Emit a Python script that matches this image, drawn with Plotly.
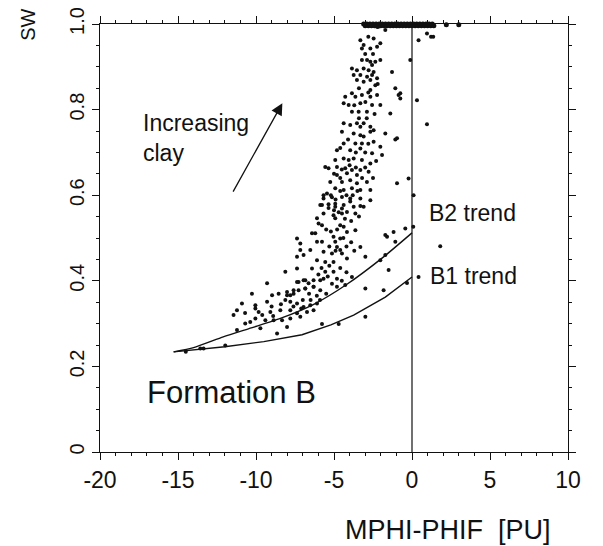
import plotly.graph_objects as go

# ---- data (MPHI-PHIF [PU], SW) ----
band_x = [-3.1, -3.0, -2.9, -2.8, -2.7, -2.6, -2.5, -2.4, -2.3, -2.2, -2.1, -2.0,
          -1.9, -1.8, -1.7, -1.6, -1.5, -1.4, -1.3, -1.2, -1.1, -1.0, -0.9, -0.8,
          -0.7, -0.6, -0.5, -0.4, -0.3, -0.2, -0.1, 0.0, 0.1, 0.2, 0.3, 0.4, 0.5,
          0.6, 0.7, 0.8, 0.9, 1.0, 1.1, 1.2, 1.3, 1.4, 2.2, 3.0]
band_y = [1.0, 0.996, 1.0, 0.996, 1.0, 0.996, 1.0, 0.996, 1.0, 0.994, 1.0, 0.996,
          1.0, 0.996, 1.0, 0.996, 1.0, 0.996, 1.0, 0.996, 1.0, 0.996, 1.0, 0.996,
          1.0, 0.996, 1.0, 0.996, 1.0, 0.996, 1.0, 0.996, 1.0, 0.996, 1.0, 0.996,
          1.0, 0.996, 1.0, 0.996, 1.0, 0.996, 1.0, 0.996, 1.0, 0.996, 0.998, 0.998]

upper_pts = [(-3.31, 0.962), (-3.21, 0.943), (-3.10, 0.951), (-2.67, 0.943), (-2.46, 0.966),
             (-2.24, 0.947), (-2.03, 0.955), (-3.21, 0.916), (-2.88, 0.916), (-2.67, 0.912),
             (-2.35, 0.912), (-2.03, 0.916), (-2.56, 0.904), (-3.85, 0.896), (-3.53, 0.892),
             (-3.10, 0.896), (-2.78, 0.892), (-2.46, 0.888), (-3.74, 0.881), (-3.31, 0.881),
             (-2.88, 0.877), (-2.56, 0.881), (-2.24, 0.873), (-1.28, 0.888), (-3.53, 0.869),
             (-3.10, 0.865), (-2.67, 0.869), (-2.35, 0.857), (-1.07, 0.850), (-0.75, 0.838),
             (-2.67, 0.846), (-3.85, 0.838), (-3.63, 0.830), (-3.21, 0.834), (-2.67, 0.830),
             (-2.24, 0.834), (-4.28, 0.830), (-4.38, 0.815), (-4.06, 0.811), (-3.31, 0.815),
             (-2.99, 0.818), (-2.56, 0.811), (-2.03, 0.811), (-0.75, 0.826), (0.32, 0.822),
             (-0.11, 0.916), (0.42, 0.962), (0.96, 0.978), (1.22, 0.970), (1.36, 0.970),
             (-1.71, 0.986), (0.96, 0.766), (-1.39, 0.791), (-0.86, 0.834), (-0.22, 0.639),
             (-0.96, 0.733), (-0.96, 0.628), (-3.85, 0.795), (-3.42, 0.795), (-2.89, 0.795),
             (-4.38, 0.768), (-3.96, 0.764), (-3.53, 0.768), (-3.10, 0.768), (-3.31, 0.760),
             (-2.67, 0.760), (-4.49, 0.748), (-3.74, 0.744), (-3.31, 0.740), (-3.10, 0.737),
             (-2.67, 0.748), (-2.46, 0.752), (-1.71, 0.744), (-1.07, 0.730),
             (-3.0, 0.70), (-2.8, 0.72), (-3.6, 0.70), (-4.1, 0.73), (-3.4, 0.78),
             (-2.9, 0.78), (-2.4, 0.79), (-3.7, 0.81), (-2.8, 0.84), (-3.0, 0.93),
             (-2.5, 0.93), (-2.8, 0.97), (-3.4, 0.85), (-2.2, 0.86)]

mid_pts = [(-4.38, 0.721), (-3.63, 0.721), (-3.21, 0.721), (-2.46, 0.725), (-2.03, 0.713),
           (-4.81, 0.705), (-3.96, 0.705), (-3.31, 0.709), (-2.56, 0.698), (-1.92, 0.694),
           (-4.92, 0.682), (-4.38, 0.686), (-4.06, 0.682), (-3.74, 0.686), (-3.21, 0.682),
           (-2.67, 0.674), (-5.56, 0.666), (-4.81, 0.666), (-4.28, 0.663), (-3.85, 0.659),
           (-3.31, 0.659), (-2.78, 0.655), (-4.81, 0.647), (-4.17, 0.651), (-3.53, 0.647),
           (-5.24, 0.631), (-4.49, 0.631), (-3.96, 0.635), (-3.53, 0.628), (-2.89, 0.631),
           (-4.92, 0.616), (-4.38, 0.612), (-3.85, 0.616), (-3.31, 0.612), (-2.67, 0.612),
           (-5.45, 0.604), (-5.67, 0.592), (-5.13, 0.595), (-4.49, 0.596), (-3.96, 0.592),
           (-3.31, 0.592), (-2.67, 0.588), (-5.88, 0.577), (-5.35, 0.579), (-4.92, 0.573),
           (-4.38, 0.577), (-3.74, 0.573), (-3.10, 0.573), (0.10, 0.600), (-5.67, 0.600),
           (-5.35, 0.663), (-5.77, 0.577), (-5.35, 0.570), (-4.92, 0.580), (-4.49, 0.569),
           (-3.96, 0.585), (-3.31, 0.575), (-5.67, 0.557), (-5.03, 0.553), (-4.49, 0.557),
           (-4.17, 0.561), (-3.63, 0.557), (-6.09, 0.546), (-5.99, 0.534), (-5.77, 0.530),
           (-4.92, 0.546), (-4.60, 0.530), (-4.38, 0.526), (-4.17, 0.514), (-3.63, 0.518),
           (-6.41, 0.511), (-6.20, 0.511), (-5.03, 0.503), (-4.60, 0.499), (-7.37, 0.499),
           (-7.16, 0.487), (-6.09, 0.491), (-5.77, 0.491), (-4.92, 0.491), (-4.81, 0.479),
           (-4.60, 0.472), (-3.31, 0.479), (-7.16, 0.472), (-6.52, 0.472), (-5.67, 0.468),
           (-5.13, 0.464), (-4.49, 0.464), (-6.95, 0.460), (-7.37, 0.456), (-6.09, 0.448),
           (-5.56, 0.444), (-5.03, 0.444), (-4.17, 0.452), (-2.99, 0.456), (-1.60, 0.503),
           (-1.18, 0.514), (-0.43, 0.522), (-1.07, 0.491), (-1.71, 0.460), (-2.03, 0.448),
           (-1.71, 0.507), (0.08, 0.526), (1.81, 0.481),
           (-4.6, 0.71), (-5.0, 0.65), (-4.5, 0.66), (-4.0, 0.67), (-3.6, 0.665),
           (-3.0, 0.665), (-2.3, 0.68), (-2.5, 0.64), (-3.2, 0.64), (-4.6, 0.64),
           (-5.2, 0.60), (-4.9, 0.59), (-4.6, 0.61), (-4.2, 0.60), (-3.8, 0.60),
           (-3.5, 0.61), (-5.0, 0.565), (-4.7, 0.56), (-4.3, 0.545), (-3.9, 0.54),
           (-3.4, 0.55), (-5.5, 0.52), (-5.2, 0.515), (-4.8, 0.52), (-4.4, 0.50),
           (-3.9, 0.49), (-5.3, 0.48), (-4.9, 0.47), (-4.2, 0.48), (-3.7, 0.47)]

lower_pts = [(-8.12, 0.421), (-7.37, 0.429), (-6.41, 0.429), (-5.56, 0.421), (-5.03, 0.421),
             (-4.81, 0.405), (-5.67, 0.405), (-7.27, 0.397), (-6.84, 0.401), (-6.31, 0.401),
             (-5.88, 0.401), (-3.85, 0.409), (-2.99, 0.382), (-1.50, 0.425), (-6.31, 0.386),
             (-5.88, 0.378), (-6.84, 0.382), (-7.59, 0.378), (-8.01, 0.374), (-7.80, 0.366),
             (-5.13, 0.393), (-4.81, 0.386), (-4.28, 0.390), (-1.82, 0.378), (-0.32, 0.395),
             (-9.29, 0.394), (-7.37, 0.397), (-6.95, 0.401), (-6.63, 0.394), (-10.26, 0.370),
             (-8.97, 0.366), (-8.55, 0.370), (-8.01, 0.366), (-7.59, 0.370), (-7.27, 0.378),
             (-6.84, 0.382), (-6.31, 0.386), (-10.90, 0.347), (-10.04, 0.343), (-9.29, 0.351),
             (-8.12, 0.355), (-7.80, 0.351), (-7.37, 0.347), (-6.95, 0.339), (-6.52, 0.343),
             (-6.09, 0.347), (-11.22, 0.331), (-11.44, 0.320), (-9.83, 0.327), (-9.08, 0.327),
             (-8.44, 0.331), (-7.80, 0.331), (-7.37, 0.324), (-6.73, 0.327), (-6.31, 0.331),
             (-10.69, 0.300), (-10.37, 0.304), (-10.04, 0.312), (-9.40, 0.308), (-8.87, 0.308),
             (-8.33, 0.308), (-7.80, 0.312), (-7.16, 0.316), (-8.01, 0.292), (-11.22, 0.285),
             (-9.72, 0.289), (-8.65, 0.277), (-11.97, 0.249), (-13.36, 0.242), (-5.77, 0.299),
             (-4.70, 0.299), (-2.99, 0.316), (-13.57, 0.242), (-14.5, 0.234), (-10.04, 0.335),
             (0.42, 0.409),
             (-5.8, 0.43), (-5.3, 0.435), (-4.6, 0.43), (-4.2, 0.42), (-6.0, 0.415),
             (-5.4, 0.41), (-4.5, 0.40), (-6.6, 0.37), (-6.1, 0.365), (-5.5, 0.37),
             (-7.0, 0.355), (-6.5, 0.355), (-5.9, 0.355), (-7.6, 0.34), (-7.1, 0.335),
             (-8.4, 0.345), (-9.0, 0.34), (-9.6, 0.32), (-8.9, 0.318), (-10.7, 0.325)]

b2_x = [-15.28, -14.0, -12.1, -10.3, -8.44, -6.3, -4.17, -1.82, 0.0]
b2_y = [0.234, 0.244, 0.269, 0.290, 0.312, 0.345, 0.392, 0.456, 0.512]
b1_x = [-15.28, -12.0, -9.5, -7.05, -5.2, -3.74, -1.71, 0.0]
b1_y = [0.234, 0.246, 0.258, 0.274, 0.297, 0.320, 0.362, 0.409]

x_ticks = [-20, -15, -10, -5, 0, 5, 10]
x_ticktext = ["-20", "-15", "-10", "-5", "0", "5", "10"]
y_ticks = [0, 0.2, 0.4, 0.6, 0.8, 1.0]
y_ticktext = ["0", "0.2", "0.4", "0.6", "0.8", "1.0"]

FONT = "Liberation Sans, Arial, Helvetica, sans-serif"
INK = "#111111"

fig = go.Figure()

cloud = upper_pts + mid_pts + lower_pts
fig.add_trace(go.Scatter(
    x=[p[0] for p in cloud], y=[p[1] for p in cloud], mode="markers",
    marker=dict(size=4, color=INK), cliponaxis=False, showlegend=False))
fig.add_trace(go.Scatter(
    x=band_x, y=band_y, mode="markers",
    marker=dict(size=5, color=INK), cliponaxis=False, showlegend=False))
fig.add_trace(go.Scatter(
    x=b2_x, y=b2_y, mode="lines", line=dict(color=INK, width=1.4, shape="spline", smoothing=0.6),
    showlegend=False))
fig.add_trace(go.Scatter(
    x=b1_x, y=b1_y, mode="lines", line=dict(color=INK, width=1.4),
    showlegend=False))

fig.add_vline(x=0, line=dict(color=INK, width=1.2))

axis_common = dict(showgrid=False, zeroline=False, showline=True, linecolor=INK,
                   linewidth=1.2, mirror="ticks", ticks="outside", tickcolor=INK,
                   tickwidth=1, ticklen=7, automargin=False)

fig.update_xaxes(range=[-20, 10], tickmode="array", tickvals=x_ticks, ticktext=x_ticktext,
                 tickfont=dict(family=FONT, size=23, color=INK), ticklabelstandoff=0,
                 minor=dict(dtick=1, ticks="outside", ticklen=3, tickcolor=INK),
                 **axis_common)
fig.update_yaxes(range=[0, 1], tickmode="array", tickvals=y_ticks, ticktext=y_ticktext,
                 tickangle=-90, tickfont=dict(family=FONT, size=20, color=INK),
                 ticklabelstandoff=0,
                 minor=dict(dtick=0.05, ticks="outside", ticklen=3, tickcolor=INK),
                 **axis_common)

ann_font = dict(family=FONT, color=INK)
annotations = [
    dict(text="SW", xref="paper", yref="paper", x=-0.154, y=0.998, xanchor="center",
         yanchor="middle", showarrow=False, textangle=-90, font=dict(size=20, **ann_font)),
    dict(text="MPHI-PHIF  [PU]", xref="paper", yref="paper", x=0.968, y=-0.183,
         xanchor="right", yanchor="middle", showarrow=False, font=dict(size=27, **ann_font)),
    dict(text="Increasing<br>clay", x=-17.4, y=0.733, xanchor="left", yanchor="middle",
         align="left", showarrow=False, font=dict(size=23, **ann_font)),
    dict(text="B2 trend", x=0.98, y=0.558, xanchor="left", yanchor="middle", showarrow=False,
         font=dict(size=23, **ann_font)),
    dict(text="B1 trend", x=1.05, y=0.412, xanchor="left", yanchor="middle", showarrow=False,
         font=dict(size=23, **ann_font)),
    dict(text="Formation B", x=-17.1, y=0.140, xanchor="left", yanchor="middle",
         showarrow=False, font=dict(size=31, **ann_font)),
    dict(text="", x=-8.31, y=0.815, ax=-11.52, ay=0.605, axref="x", ayref="y",
         showarrow=True, arrowhead=2, arrowsize=1.8, arrowwidth=1.3, arrowcolor=INK),
]

fig.update_layout(
    width=603, height=546,
    margin=dict(l=100, r=35, t=24, b=94, autoexpand=False),
    paper_bgcolor="white", plot_bgcolor="white",
    font=dict(family=FONT, color=INK),
    annotations=annotations,
    showlegend=False,
)

fig.write_html("out.html", config={"displayModeBar": False},
               post_script="document.body.style.margin='0';document.body.style.padding='0';")
